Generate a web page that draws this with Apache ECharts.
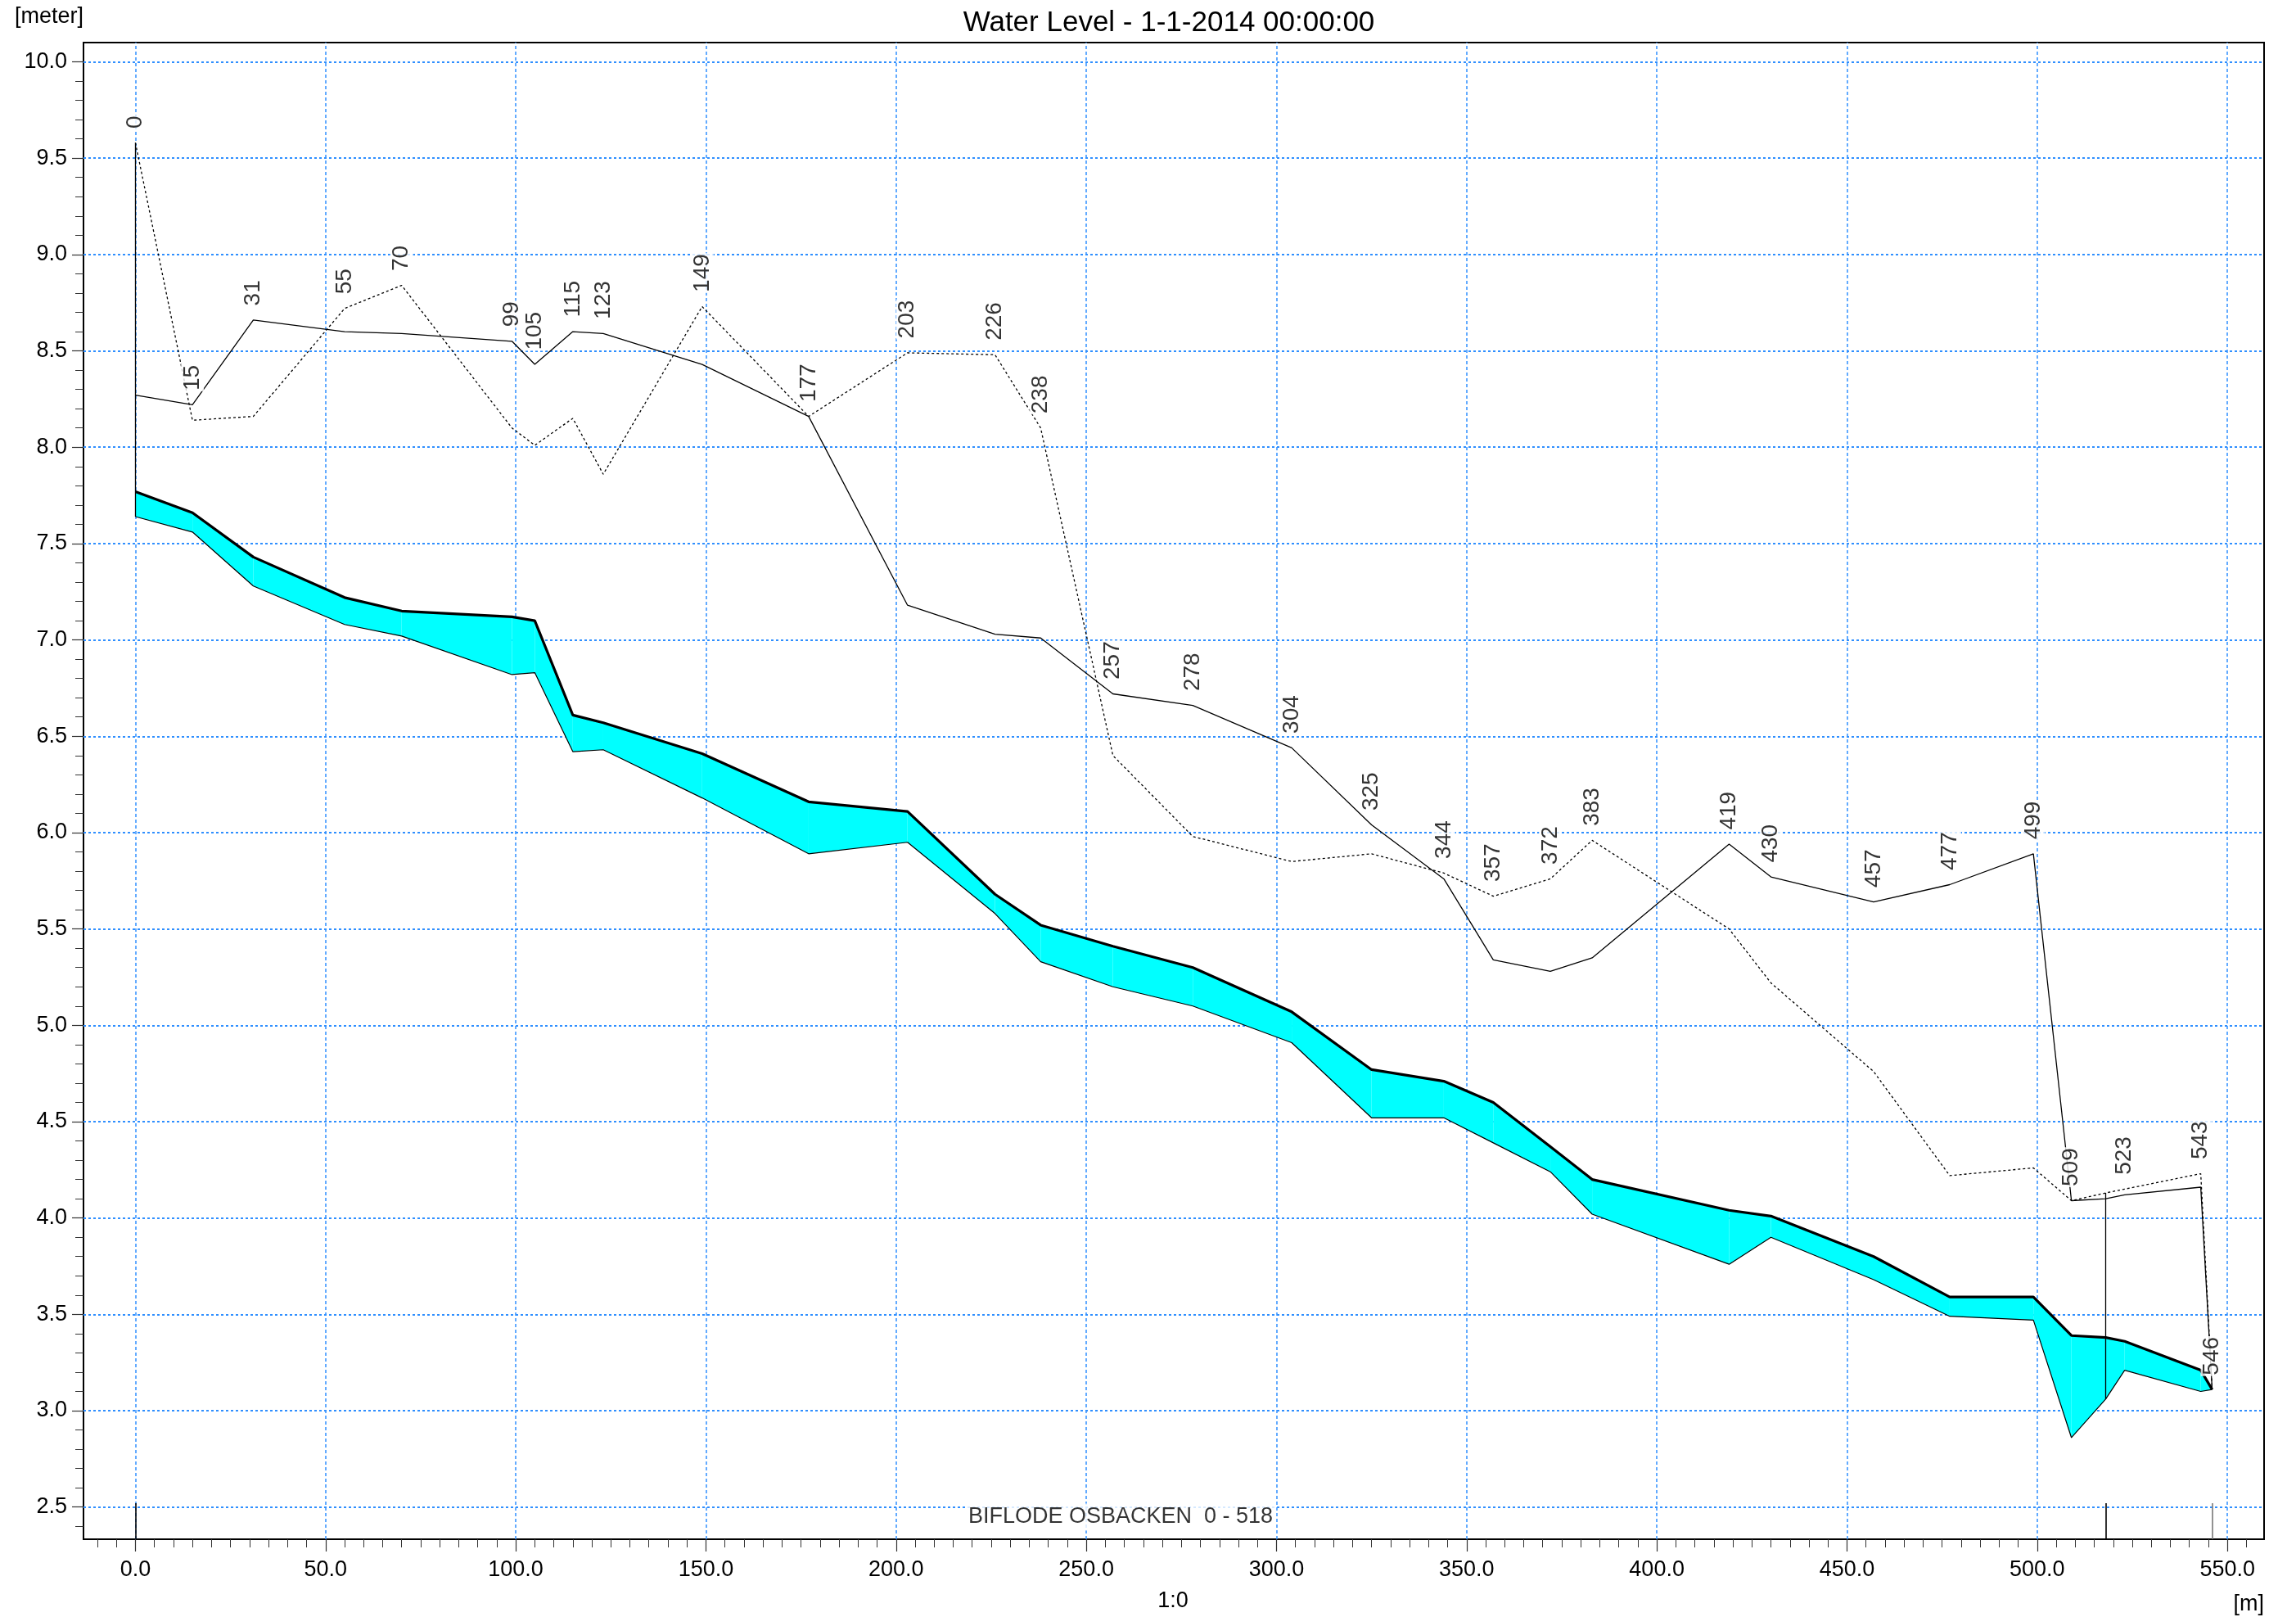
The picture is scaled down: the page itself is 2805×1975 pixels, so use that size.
<!DOCTYPE html>
<html>
<head>
<meta charset="utf-8">
<script src="https://cdn.jsdelivr.net/npm/echarts@6/dist/echarts.min.js"></script>
<style>
html,body{margin:0;padding:0;background:#fff;}
#chart{width:2805px;height:1975px;}
</style>
</head>
<body>
<div id="chart"></div>
<script>
// ---- data ----
const chainage      = [0, 15, 31, 55, 70, 99, 105, 115, 123, 149, 177, 203, 226, 238, 257, 278, 304, 325, 344, 357, 372, 383, 419, 430, 457, 477, 499, 509, 518, 523, 543, 546];
const sectionLabels = ['0','15','31','55','70','99','105','115','123','149','177','203','226','238','257','278','304','325','344','357','372','383','419','430','457','477','499','509','','523','543','546'];
const leftBank      = [8.27, 8.22, 8.66, 8.60, 8.59, 8.55, 8.43, 8.60, 8.59, 8.43, 8.16, 7.18, 7.03, 7.01, 6.72, 6.66, 6.44, 6.04, 5.76, 5.34, 5.28, 5.35, 5.94, 5.77, 5.64, 5.73, 5.89, 4.09, 4.10, 4.12, 4.16, 3.11];
const rightBank     = [9.58, 8.14, 8.16, 8.72, 8.84, 8.10, 8.01, 8.15, 7.86, 8.73, 8.16, 8.49, 8.48, 8.10, 6.40, 5.98, 5.85, 5.89, 5.79, 5.67, 5.76, 5.96, 5.50, 5.22, 4.76, 4.22, 4.26, 4.09, 4.13, 4.15, 4.23, 3.11];
const waterLevel    = [7.77, 7.66, 7.43, 7.22, 7.15, 7.12, 7.10, 6.61, 6.57, 6.41, 6.16, 6.11, 5.68, 5.52, 5.41, 5.30, 5.07, 4.77, 4.71, 4.60, 4.37, 4.20, 4.04, 4.01, 3.80, 3.59, 3.59, 3.39, 3.38, 3.36, 3.21, 3.11];
const bedLevel      = [7.64, 7.56, 7.28, 7.08, 7.02, 6.82, 6.83, 6.42, 6.43, 6.18, 5.89, 5.95, 5.58, 5.33, 5.20, 5.10, 4.91, 4.52, 4.52, 4.39, 4.24, 4.02, 3.76, 3.90, 3.68, 3.49, 3.47, 2.86, 3.06, 3.21, 3.10, 3.11];

const xTickValues = [0, 50, 100, 150, 200, 250, 300, 350, 400, 450, 500, 550];
const xTickLabels = ['0.0','50.0','100.0','150.0','200.0','250.0','300.0','350.0','400.0','450.0','500.0','550.0'];
const yTickValues = [2.5, 3.0, 3.5, 4.0, 4.5, 5.0, 5.5, 6.0, 6.5, 7.0, 7.5, 8.0, 8.5, 9.0, 9.5, 10.0];
const yTickLabels = ['2.5','3.0','3.5','4.0','4.5','5.0','5.5','6.0','6.5','7.0','7.5','8.0','8.5','9.0','9.5','10.0'];

const branchName   = 'BIFLODE OSBACKEN  0 - 518';
const branchStart  = 0;
const branchEnd    = 518;
const nodeChainages = [0, 518, 546];
const structureChainages = [0, 518];

const titleText = 'Water Level - 1-1-2014 00:00:00';

// ---- axis ranges ----
const X_MIN = -13.65, X_MAX = 559.65;
const Y_MIN = 2.333, Y_MAX = 10.1;

const xMinorTicks = [];
for (let v = -10; v <= 555; v += 5) xMinorTicks.push(v);
const yMinorTicks = [];
for (let k = 24; k <= 100; k++) yMinorTicks.push(+(k / 10).toFixed(1));

const FONT = "'Liberation Sans', Arial, Helvetica, sans-serif";
const GRID_BLUE = '#2f8fff';

const chart = echarts.init(document.getElementById('chart'), null, {renderer: 'canvas'});

const pairs = arr => chainage.map((c, i) => [c, arr[i]]);

const fillSegments = chainage.slice(0, -1).map((c, i) =>
  [c, waterLevel[i], bedLevel[i], chainage[i + 1], waterLevel[i + 1], bedLevel[i + 1]]);

const labelPoints = chainage
  .map((c, i) => ({value: [c, Math.max(leftBank[i], rightBank[i])], name: sectionLabels[i]}))
  .filter(d => d.name !== '');

const structIdx = structureChainages.map(c => chainage.indexOf(c));

const axisCommon = {
  type: 'value',
  axisLine: {show: false, onZero: false},
  axisLabel: {show: false},
  splitLine: {show: false}
};

const option = {
  animation: false,
  backgroundColor: '#fff',
  textStyle: {fontFamily: FONT},
  grid: {left: 102, right: 39, top: 52, bottom: 95, show: true, borderColor: '#000', borderWidth: 2, backgroundColor: 'transparent', containLabel: false, outerBoundsMode: 'none'},
  xAxis: [
    Object.assign({}, axisCommon, {
      min: X_MIN, max: X_MAX, position: 'bottom',
      axisLine: {show: true, onZero: false, lineStyle: {color: '#000', width: 2}},
      axisTick: {show: true, customValues: xMinorTicks, length: 10, lineStyle: {color: '#333', width: 1}}
    }),
    Object.assign({}, axisCommon, {
      min: X_MIN, max: X_MAX, position: 'bottom',
      axisTick: {show: true, customValues: xTickValues, length: 15, lineStyle: {color: '#333', width: 1.2}},
      axisLabel: {show: true, customValues: xTickValues, margin: 24, fontSize: 27, fontFamily: FONT, color: '#000',
        formatter: v => xTickLabels[xTickValues.indexOf(v)] ?? ''}
    })
  ],
  yAxis: [
    Object.assign({}, axisCommon, {
      min: Y_MIN, max: Y_MAX, position: 'left',
      axisLine: {show: true, onZero: false, lineStyle: {color: '#000', width: 2}},
      axisTick: {show: true, customValues: yMinorTicks, length: 10, lineStyle: {color: '#333', width: 1}}
    }),
    Object.assign({}, axisCommon, {
      min: Y_MIN, max: Y_MAX, position: 'left',
      axisTick: {show: true, customValues: yTickValues, length: 14, lineStyle: {color: '#333', width: 1.2}},
      axisLabel: {show: true, customValues: yTickValues, margin: 20, fontSize: 27, fontFamily: FONT, color: '#000',
        formatter: v => yTickLabels[yTickValues.findIndex(t => Math.abs(t - v) < 1e-6)] ?? ''}
    })
  ],
  graphic: [
    {type: 'text', z: 10, style: {text: titleText, x: 1428, y: 28, font: '35px ' + FONT, fill: '#000', textAlign: 'center', textVerticalAlign: 'middle'}},
    {type: 'text', z: 10, style: {text: '[meter]', x: 18, y: 21, font: '27px ' + FONT, fill: '#000', textAlign: 'left', textVerticalAlign: 'middle'}},
    {type: 'text', z: 10, style: {text: '[m]', x: 2766, y: 1960, font: '27px ' + FONT, fill: '#000', textAlign: 'right', textVerticalAlign: 'middle'}},
    {type: 'text', z: 10, style: {text: '1:0', x: 1433, y: 1956, font: '27px ' + FONT, fill: '#000', textAlign: 'center', textVerticalAlign: 'middle'}}
  ],
  series: [
    {
      name: 'vertical grid', type: 'lines', coordinateSystem: 'cartesian2d', xAxisIndex: 0, yAxisIndex: 0, z: 1, silent: true,
      data: xTickValues.map(v => ({coords: [[v, Y_MIN], [v, Y_MAX]]})),
      lineStyle: {color: GRID_BLUE, width: 1.5, type: [4, 3], opacity: 1}
    },
    {
      name: 'horizontal grid', type: 'lines', coordinateSystem: 'cartesian2d', xAxisIndex: 0, yAxisIndex: 0, z: 1, silent: true,
      data: yTickValues.map(v => ({coords: [[X_MIN, v], [X_MAX, v]]})),
      lineStyle: {color: GRID_BLUE, width: 2, type: [3, 3], opacity: 1}
    },
    {
      name: 'wet area', type: 'custom', coordinateSystem: 'cartesian2d', xAxisIndex: 0, yAxisIndex: 0, z: 2,
      data: fillSegments, encode: {x: [0, 3], y: [1, 2, 4, 5]}, silent: true,
      renderItem: (params, api) => {
        const a = api.coord([api.value(0), api.value(1)]);
        const b = api.coord([api.value(3), api.value(4)]);
        const c = api.coord([api.value(3), api.value(5)]);
        const d = api.coord([api.value(0), api.value(2)]);
        return {type: 'polygon', shape: {points: [a, b, c, d]}, style: {fill: '#00ffff'}};
      }
    },
    {name: 'bed', type: 'line', xAxisIndex: 0, yAxisIndex: 0, z: 3, symbol: 'none', data: pairs(bedLevel), lineStyle: {color: '#000', width: 1.2}, silent: true},
    {name: 'left bank', type: 'line', xAxisIndex: 0, yAxisIndex: 0, z: 3, symbol: 'none', data: pairs(leftBank), lineStyle: {color: '#000', width: 1.3}, silent: true},
    {name: 'right bank', type: 'line', xAxisIndex: 0, yAxisIndex: 0, z: 3, symbol: 'none', data: pairs(rightBank), lineStyle: {color: '#000', width: 1.3, type: [3, 3]}, silent: true},
    {name: 'water level', type: 'line', xAxisIndex: 0, yAxisIndex: 0, z: 4, symbol: 'none', data: pairs(waterLevel), lineStyle: {color: '#000', width: 3.2}, silent: true},
    {
      name: 'structures', type: 'lines', coordinateSystem: 'cartesian2d', xAxisIndex: 0, yAxisIndex: 0, z: 4, silent: true,
      data: structIdx.map(i => ({coords: [[chainage[i], bedLevel[i]], [chainage[i], Math.max(leftBank[i], rightBank[i])]]})),
      lineStyle: {color: '#000', width: 1.3, opacity: 1}
    },
    {
      name: 'nodes', type: 'lines', coordinateSystem: 'cartesian2d', xAxisIndex: 0, yAxisIndex: 0, z: 5, silent: true,
      data: nodeChainages.map((c, i) => ({coords: [[c, Y_MIN], [c, 2.52]], lineStyle: {color: i === nodeChainages.length - 1 ? '#777' : '#000', width: 1.6, opacity: 1}})),
      lineStyle: {color: '#000', width: 1.6, opacity: 1}
    },
    {
      name: 'section labels', type: 'scatter', xAxisIndex: 0, yAxisIndex: 0, z: 6, silent: true,
      symbolSize: 1, itemStyle: {color: 'rgba(0,0,0,0)'},
      data: labelPoints,
      label: {show: true, formatter: p => p.name, position: 'top', distance: 16, rotate: 90, align: 'left', verticalAlign: 'middle',
        fontSize: 28, fontFamily: FONT, color: '#000', backgroundColor: '#fff', padding: [0, 1]}
    },
    {
      name: 'branch', type: 'scatter', xAxisIndex: 0, yAxisIndex: 0, z: 6, silent: true,
      symbolSize: 1, itemStyle: {color: 'rgba(0,0,0,0)'},
      data: [{value: [(branchStart + branchEnd) / 2, 2.448], name: branchName}],
      label: {show: true, formatter: p => p.name, position: 'inside', fontSize: 27, fontFamily: FONT, color: '#000', backgroundColor: '#fff', padding: [3, 2]}
    }
  ]
};

chart.setOption(option);
</script>
</body>
</html>
